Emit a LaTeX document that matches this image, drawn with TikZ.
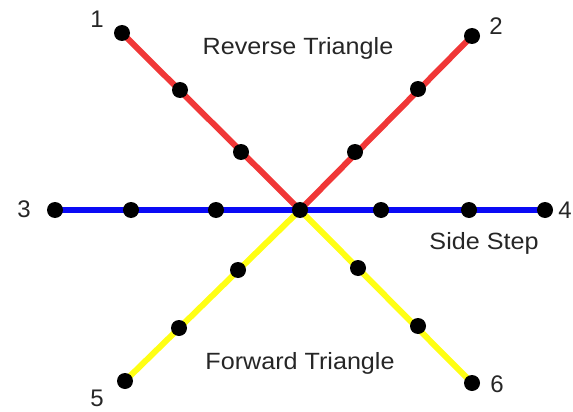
\documentclass[tikz,border=0pt]{standalone}
\usepackage{fontspec}
\setmainfont{Liberation Sans}
\definecolor{lred}{RGB}{240,55,55}
\definecolor{lblue}{RGB}{10,10,245}
\definecolor{lyellow}{RGB}{255,255,20}
\begin{document}
\begin{tikzpicture}[x=1pt,y=-1pt,
  dot/.style={circle,fill=black,inner sep=0pt,minimum size=16pt},
  leg/.style={line width=6pt},
  lbl/.style={font=\fontsize{23.5}{28}\selectfont,text=black!85,inner sep=0pt},
  num/.style={font=\fontsize{24}{28}\selectfont,text=black!85,inner sep=0pt}]
\useasboundingbox (0,0) rectangle (573,412);
% positions
\coordinate (c) at (300,210);
\coordinate (p1) at (122,33);
\coordinate (a1) at (180,90);
\coordinate (b1) at (241,152);
\coordinate (p2) at (472,36);
\coordinate (a2) at (418,89);
\coordinate (b2) at (355,152);
\coordinate (p3) at (55,210);
\coordinate (a3) at (131,210);
\coordinate (b3) at (216,210);
\coordinate (p4) at (545,210);
\coordinate (a4) at (469,210);
\coordinate (b4) at (381,210);
\coordinate (p5) at (125,381);
\coordinate (a5) at (179,328);
\coordinate (b5) at (238,270);
\coordinate (p6) at (472,383);
\coordinate (a6) at (418,326);
\coordinate (b6) at (358,268);
% legs
\draw[leg,lred] (c) -- (p1);
\draw[leg,lred] (c) -- (p2);
\draw[leg,lyellow] (c) -- (p5);
\draw[leg,lyellow] (c) -- (p6);
\draw[leg,lblue] (p3) -- (p4);
% dots
\foreach \n in {c,p1,a1,b1,p2,a2,b2,p3,a3,b3,p4,a4,b4,p5,a5,b5,p6,a6,b6}
  \node[dot] (d\n) at (\n) {};
% numbers
\node[num] (n1) at (97,19) {1};
\node[num] (n2) at (496,26) {2};
\node[num] (n3) at (24,209) {3};
\node[num] (n4) at (565,210) {4};
\node[num] (n5) at (97,398) {5};
\node[num] (n6) at (497,384) {6};
% labels
\node[lbl,xscale=1.07] (rt) at (298,48) {Reverse Triangle};
\node[lbl,xscale=1.07] (ss) at (484,243) {Side Step};
\node[lbl,xscale=1.07] (ft) at (300,363) {Forward Triangle};
\end{tikzpicture}
\end{document}
